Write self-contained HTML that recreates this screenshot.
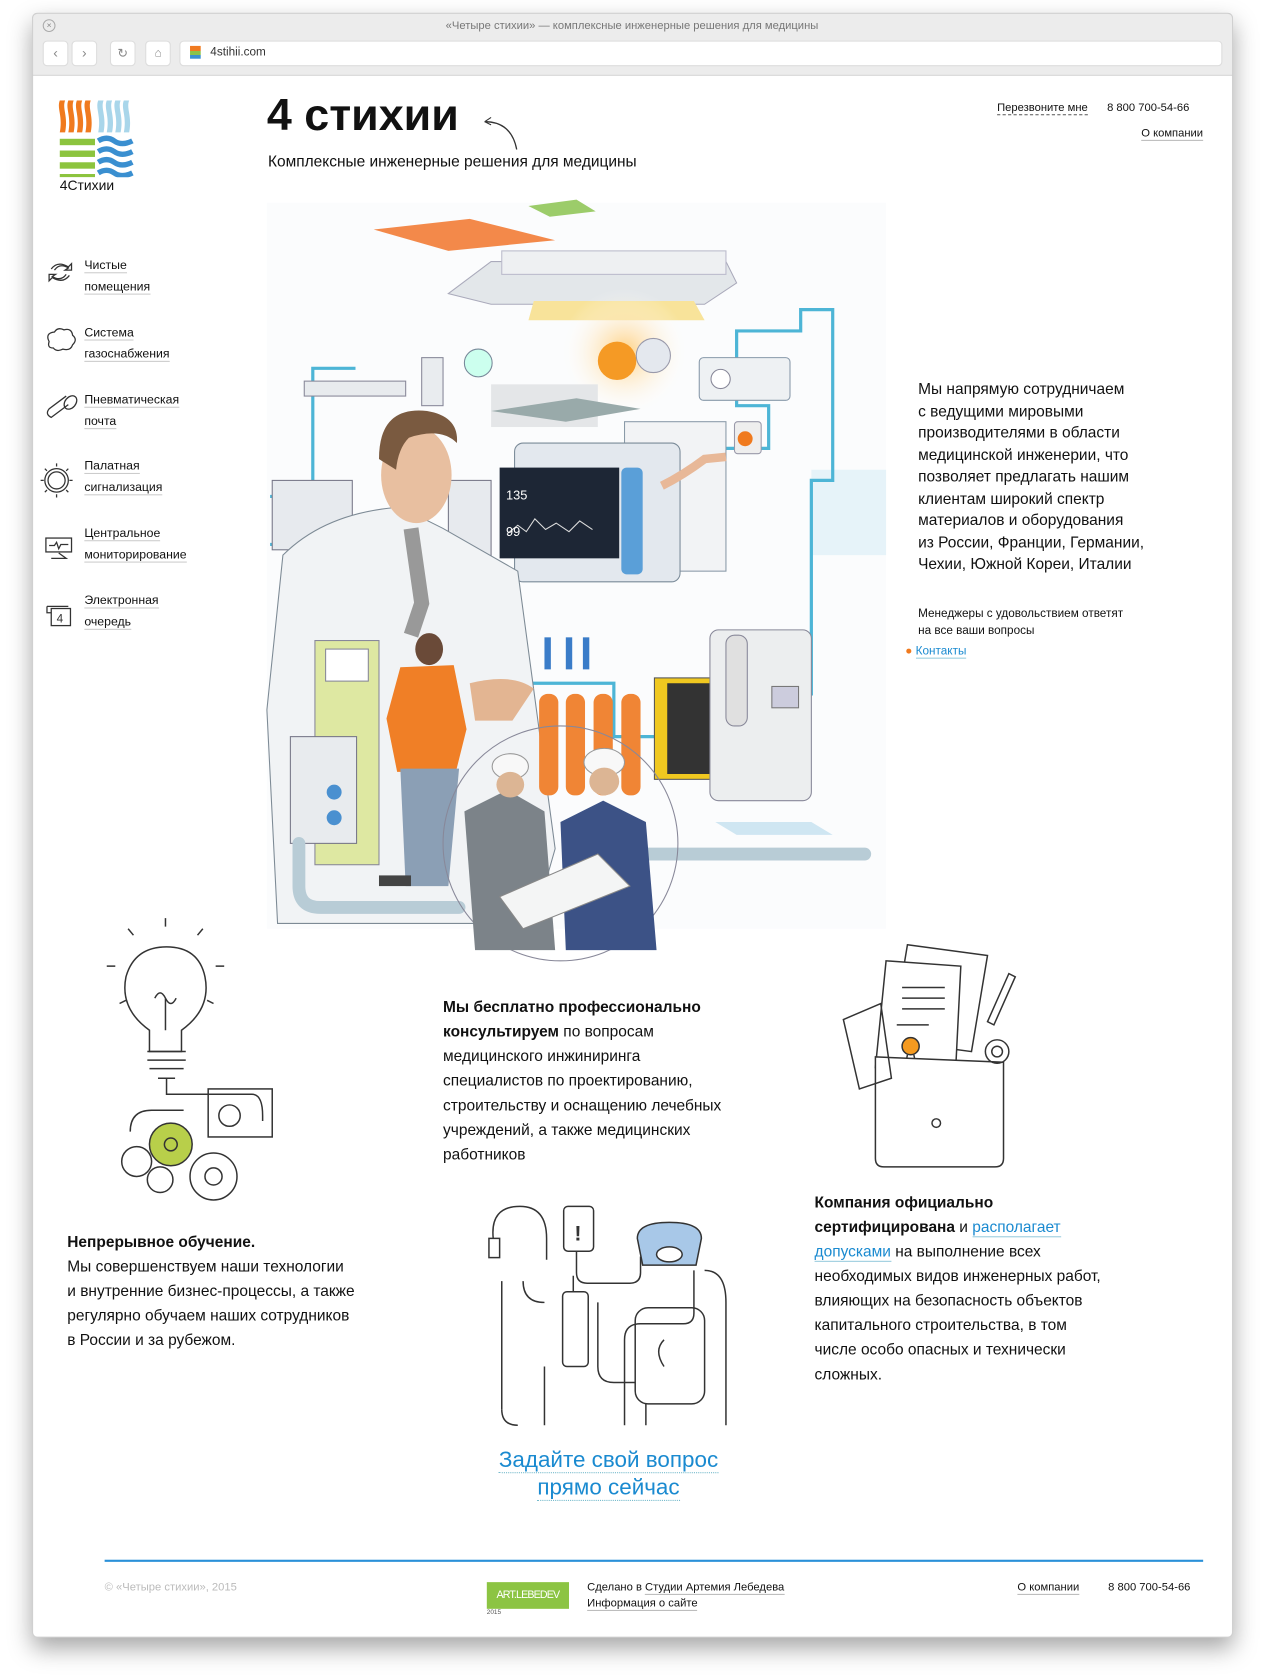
<!DOCTYPE html>
<html><head><meta charset="utf-8"><style>
html,body{margin:0;padding:0;background:#fff;width:1264px;height:1675px;overflow:hidden}
#s{position:absolute;left:0;top:0;width:1184px;height:1569px;transform:scale(1.06757);transform-origin:0 0;font-family:"Liberation Sans","DejaVu Sans",sans-serif;color:#111}
.a{position:absolute;white-space:nowrap}
.u{border-bottom:1px solid #bbb}
.nav{position:absolute;left:79px;font-size:11.5px;line-height:20px}
.nav span{border-bottom:1px solid #ccc}
.p{position:absolute;font-size:14.5px;line-height:23px;white-space:nowrap}
</style></head><body><div id="s">
<div class="a" style="left:30px;top:12px;width:1123px;height:1520px;background:#fff;border:1px solid #d0d0d0;border-radius:5px;box-shadow:0 10px 22px rgba(0,0,0,.35)"></div>
<div class="a" style="left:30px;top:12px;width:1123px;height:57px;background:#ececec;border:1px solid #d0d0d0;border-bottom:1px solid #c8c8c8;border-radius:5px 5px 0 0"></div>
<div class="a" style="left:40px;top:18px;width:10px;height:10px;border:1px solid #aaa;border-radius:50%;font-size:8px;line-height:10px;text-align:center;color:#888">×</div>
<div class="a" style="left:0;width:1184px;top:18px;text-align:center;font-size:10.5px;color:#777">«Четыре стихии» — комплексные инженерные решения для медицины</div>
<div class="a" style="left:40px;top:38px;width:22px;height:22px;background:#fff;border-radius:4px;border:1px solid #ddd;font-size:13px;text-align:center;line-height:22px;color:#888">‹</div>
<div class="a" style="left:67px;top:38px;width:22px;height:22px;background:#fff;border-radius:4px;border:1px solid #ddd;font-size:13px;text-align:center;line-height:22px;color:#888">›</div>
<div class="a" style="left:103px;top:38px;width:22px;height:22px;background:#fff;border-radius:4px;border:1px solid #ddd;font-size:12px;text-align:center;line-height:22px;color:#888">↻</div>
<div class="a" style="left:136px;top:38px;width:22px;height:22px;background:#fff;border-radius:4px;border:1px solid #ddd;font-size:11px;text-align:center;line-height:22px;color:#888">⌂</div>
<div class="a" style="left:168px;top:38px;width:975px;height:22px;background:#fff;border-radius:4px;border:1px solid #ddd"></div>
<div class="a" style="left:178px;top:43px;width:10px;height:12px;background:linear-gradient(#f07a20 0 40%,#8bc34a 40% 70%,#3a90d0 70%)"></div>
<div class="a" style="left:197px;top:43px;font-size:11px;color:#333">4stihii.com</div>

<svg class="a" style="left:54px;top:94px" width="74" height="72" viewBox="0 0 74 72">
<g fill="#f07a1e"><path d="M2 0h5c-3 8 3 14 0 30H2c3-16-3-22 0-30z"/><path d="M10 0h5c-3 8 3 14 0 30h-5c3-16-3-22 0-30z"/><path d="M18 0h5c-3 8 3 14 0 30h-5c3-16-3-22 0-30z"/><path d="M26 0h5c-3 8 3 14 0 30h-5c3-16-3-22 0-30z"/></g>
<g fill="#a9d6ea"><path d="M38 0h5c-3 8 3 14 0 30h-5c3-16-3-22 0-30z"/><path d="M46 0h5c-3 8 3 14 0 30h-5c3-16-3-22 0-30z"/><path d="M54 0h5c-3 8 3 14 0 30h-5c3-16-3-22 0-30z"/><path d="M62 0h5c-3 8 3 14 0 30h-5c3-16-3-22 0-30z"/></g>
<g fill="#8cc43e"><rect x="2" y="36" width="33" height="6"/><rect x="2" y="47" width="33" height="6"/><rect x="2" y="58" width="33" height="6"/><rect x="2" y="69" width="33" height="3"/></g>
<g fill="none" stroke="#3a8fd0" stroke-width="5"><path d="M38 38q8-5 15 0t17 0"/><path d="M38 48q8-5 15 0t17 0"/><path d="M38 58q8-5 15 0t17 0"/><path d="M38 68q8-5 15 0t17 0"/></g>
</svg>
<div class="a" style="left:56px;top:166px;font-size:13px">4Стихии</div>

<div class="a" style="left:250px;top:84px;font-size:42px;font-weight:bold;letter-spacing:0px">4 стихии</div>
<svg class="a" style="left:450px;top:108px" width="40" height="34"><path d="M4 6q25 0 30 26" fill="none" stroke="#333" stroke-width="1.2"/><path d="M4 6l6-4M4 6l6 3" stroke="#333" fill="none"/></svg>
<div class="a" style="left:251px;top:144px;font-size:14.5px">Комплексные инженерные решения для медицины</div>
<div class="a" style="left:934px;top:95px;font-size:10.5px"><span class="u" style="border-bottom:1px dashed #555">Перезвоните мне</span></div>
<div class="a" style="left:1037px;top:95px;font-size:10.5px">8 800 700-54-66</div>
<div class="a" style="left:1069px;top:119px;font-size:10.5px"><span class="u">О компании</span></div>

<svg class="a" style="left:38px;top:236px" width="40" height="370" fill="none" stroke="#333" stroke-width="1.2">
<path d="M10 16q6-8 16-2l3-3v6h-6l3-2q-8-5-13 2M27 22q-6 8-16 2l-3 3v-6h6l-3 2q8 5 13-2"/>
<path d="M8 84q-4-8 5-9 3-5 9-2 7-2 8 5 5 4 0 9-2 6-9 4-6 3-9-1-6 0-4-6z"/>
<g transform="translate(0,126)"><ellipse cx="28" cy="15" rx="5" ry="7" transform="rotate(40 28 15)"/><path d="M24 9L8 21q-4 5 2 8l16-12"/></g>
<g transform="translate(0,196)"><circle cx="15" cy="18" r="8"/><circle cx="15" cy="18" r="11"/><path d="M15 2v3M15 31v3M0 18h3M27 18h3M4 7l2 2M24 27l2 2M4 29l2-2M24 9l2-2"/></g>
<g transform="translate(0,262)"><rect x="5" y="6" width="24" height="13"/><path d="M8 13h5l2-3 2 6 2-4h7M10 25h14l-7-5"/></g>
<g transform="translate(0,326)"><rect x="10" y="8" width="18" height="16"/><path d="M6 6v6h4M6 6h20" /><text x="15" y="21" font-size="11" fill="#333" stroke="none" font-family="Liberation Sans">4</text></g>
</svg>
<div class="nav" style="top:239px"><span>Чистые</span><br><span>помещения</span></div>
<div class="nav" style="top:302px"><span>Система</span><br><span>газоснабжения</span></div>
<div class="nav" style="top:365px"><span>Пневматическая</span><br><span>почта</span></div>
<div class="nav" style="top:427px"><span>Палатная</span><br><span>сигнализация</span></div>
<div class="nav" style="top:490px"><span>Центральное</span><br><span>мониторирование</span></div>
<div class="nav" style="top:553px"><span>Электронная</span><br><span>очередь</span></div>

<svg class="a" style="left:0;top:0" width="1184" height="1569">
<defs><radialGradient id="sun"><stop offset="0" stop-color="#ffd080"/><stop offset="1" stop-color="#fff" stop-opacity="0"/></radialGradient></defs>
<rect x="250" y="190" width="580" height="680" fill="#fbfcfd"/>
<rect x="760" y="440" width="70" height="80" fill="#e6f3f9"/>
<polygon points="350,215 440,205 520,225 420,235" fill="#f3894a"/>
<polygon points="495,193 540,187 558,198 515,203" fill="#9ccc6a"/>
<path d="M420 275l40-30h220l10 20-30 20H460z" fill="#e3e7ea" stroke="#aab" />
<rect x="470" y="235" width="210" height="22" fill="#eef0f2" stroke="#bbc"/>
<polygon points="500,282 650,282 660,300 495,300" fill="#f8e39a"/>
<circle cx="585" cy="330" r="60" fill="url(#sun)"/>
<circle cx="578" cy="338" r="18" fill="#f59a25"/>
<circle cx="612" cy="333" r="16" fill="#e4e8ee" stroke="#99a"/>
<path d="M253 465h40v-120h40M253 510h25v80h180M660 420h60v-40h-30v-70h60v-20h30v160h-20v200h-30v50h-60M455 590v50h120v50h40" fill="none" stroke="#4db5d6" stroke-width="3"/>
<rect x="655" y="335" width="85" height="40" rx="4" fill="#eef1f3" stroke="#8899aa"/>
<circle cx="675" cy="355" r="9" fill="#fff" stroke="#889"/>
<rect x="688" y="395" width="25" height="30" rx="3" fill="#eee" stroke="#99a"/>
<circle cx="698" cy="411" r="7" fill="#f07a1e"/>
<rect x="285" y="357" width="95" height="14" fill="#e8ebee" stroke="#889"/>
<rect x="395" y="335" width="20" height="45" fill="#e9ecef" stroke="#889"/>
<circle cx="448" cy="340" r="13" fill="#cfe" stroke="#789"/>
<rect x="255" y="450" width="75" height="65" fill="#e7eaee" stroke="#778"/>
<rect x="420" y="450" width="40" height="80" fill="#e7eaee" stroke="#778"/>
<rect x="460" y="360" width="100" height="40" fill="#e4e6e8"/>
<path d="M460 385l80-12 60 10-70 12z" fill="#9aa" />
<rect x="585" y="395" width="95" height="140" fill="#f2f3f5" stroke="#8a9aa8"/>
<rect x="482" y="415" width="155" height="130" rx="8" fill="#e3e8ee" stroke="#7a8a98"/>
<rect x="468" y="438" width="112" height="85" fill="#1d2635"/>
<path d="M475 500l10-8 8 6 8-12 10 10 10-6 12 8 10-10 12 8" stroke="#ddd" fill="none"/>
<text x="474" y="468" fill="#fff" font-size="12" font-family="Liberation Sans">135</text>
<text x="474" y="502" fill="#fff" font-size="12" font-family="Liberation Sans">99</text>
<rect x="582" y="438" width="20" height="100" rx="5" fill="#5a9fd8"/>
<path d="M620 455q20-10 40-25l20-2" stroke="#e8b898" stroke-width="8" fill="none"/>
<path d="M265 520q40-40 110-45l40 20 70 40 35 260-20 70H260l-10-200z" fill="#f1f3f5" stroke="#7d8a95"/>
<path d="M385 495l10 70-10 30" stroke="#999" stroke-width="14" fill="none"/>
<ellipse cx="390" cy="445" rx="33" ry="45" fill="#e8bfa0"/>
<path d="M355 430q0-50 45-45 30 5 28 30-15-15-45-5-10 10-12 30z" fill="#7a5a40"/>
<path d="M440 640q40-10 60 5l-20 30-35 0z" fill="#e3b592"/>
<ellipse cx="402" cy="608" rx="13" ry="15" fill="#6a4a38"/>
<path d="M375 625l50-2 12 60-10 40h-55l-10-50z" fill="#f07f26"/>
<path d="M375 720h55l-10 110h-40z" fill="#8b9fb5"/>
<rect x="355" y="820" width="30" height="10" fill="#444"/>
<rect x="295" y="600" width="60" height="210" fill="#dee8a2" stroke="#889"/>
<rect x="305" y="608" width="40" height="30" fill="#fff" stroke="#889"/>
<rect x="272" y="690" width="62" height="100" fill="#e8ebee" stroke="#778"/>
<circle cx="313" cy="742" r="7" fill="#4a90d0"/><circle cx="313" cy="766" r="7" fill="#4a90d0"/>
<g fill="#f08535"><rect x="505" y="650" width="18" height="95" rx="8"/><rect x="530" y="650" width="18" height="95" rx="8"/><rect x="556" y="650" width="18" height="95" rx="8"/><rect x="582" y="650" width="18" height="95" rx="8"/></g>
<g fill="#3a7cc8"><rect x="510" y="597" width="6" height="30"/><rect x="530" y="597" width="6" height="30"/><rect x="546" y="597" width="6" height="30"/></g>
<rect x="613" y="635" width="55" height="95" fill="#f0c820" stroke="#555"/>
<rect x="625" y="640" width="40" height="85" fill="#333"/>
<rect x="665" y="590" width="95" height="160" rx="8" fill="#eceeef" stroke="#889"/>
<rect x="680" y="595" width="20" height="85" rx="8" fill="#e0e0e0" stroke="#889"/>
<rect x="723" y="643" width="25" height="20" fill="#ccd" stroke="#777"/>
<path d="M280 790v40q0 20 20 20h130M600 800h210" stroke="#b8ccd6" stroke-width="12" fill="none" stroke-linecap="round"/>
<polygon points="670,770 760,770 780,782 690,782" fill="#cfe6f2"/>
<circle cx="525" cy="790" r="110" fill="none" stroke="#889" stroke-width="1"/>
<path d="M435 760l40-20 35 20 10 130h-75z" fill="#7c8389"/>
<ellipse cx="478" cy="718" rx="17" ry="12" fill="#f8f8f8" stroke="#999"/>
<ellipse cx="478" cy="735" rx="13" ry="12" fill="#dcb594"/>
<path d="M525 770l40-20 40 20 10 120h-85z" fill="#3c5286"/>
<ellipse cx="566" cy="714" rx="19" ry="13" fill="#f8f8f8" stroke="#999"/>
<ellipse cx="566" cy="732" rx="14" ry="13" fill="#dcb594"/>
<polygon points="468,840 560,800 590,830 490,870" fill="#f4f5f5" stroke="#888"/>
</svg>

<div class="p" style="left:860px;top:355px;line-height:20.5px;font-size:14.5px">Мы напрямую сотрудничаем<br>с ведущими мировыми<br>производителями в области<br>медицинской инженерии, что<br>позволяет предлагать нашим<br>клиентам широкий спектр<br>материалов и оборудования<br>из России, Франции, Германии,<br>Чехии, Южной Кореи, Италии</div>
<div class="p" style="left:860px;top:567px;font-size:11px;line-height:16px">Менеджеры с удовольствием ответят<br>на все ваши вопросы</div>
<div class="a" style="left:848px;top:604px;font-size:11px;color:#1a8ad0"><span style="color:#f07a1e">●</span> <span style="border-bottom:1px solid #9cd">Контакты</span></div>

<svg class="a" style="left:0;top:0" width="1184" height="1569" fill="none" stroke="#333" stroke-width="1.4">
<path d="M140 965q-28-20-22-50 8-28 38-28 30 0 36 28 6 30-22 50v20h-30z"/>
<path d="M138 985h36M138 993h36M140 1001h32M148 1010h16"/>
<path d="M145 935q5-10 10 0t10 0M155 935v30"/>
<path d="M155 860v8M120 870l5 6M190 870l-5 6M100 905h8M210 905h-8M112 940l6-3M200 940l-6-3"/>
<path d="M156 1010v15h80q10 0 10 20v5"/>
<rect x="195" y="1020" width="60" height="45"/><circle cx="215" cy="1045" r="10"/>
<circle cx="160" cy="1072" r="20" fill="#b8cf4a"/><circle cx="160" cy="1072" r="6"/>
<circle cx="128" cy="1088" r="14"/><circle cx="150" cy="1105" r="12"/><circle cx="200" cy="1102" r="22"/><circle cx="200" cy="1102" r="8"/>
<path d="M122 1060q0-20 20-20h30"/>
<polygon points="850,885 925,895 910,985 835,975" fill="#fff"/>
<polygon points="830,900 900,905 895,1005 820,1000" fill="#fff"/>
<path d="M845 925h40M845 935h40M845 945h40M840 960h30"/>
<circle cx="853" cy="980" r="8" fill="#f49a20"/>
<path d="M850 988l-3 15M856 988l3 15"/>
<path d="M820 990l120 5v90q0 8-8 8H828q-8 0-8-8z" fill="#fff"/>
<path d="M790 955l35-15 10 70-30 10z"/>
<circle cx="877" cy="1052" r="4"/>
<circle cx="934" cy="985" r="11"/><circle cx="934" cy="985" r="5"/>
<path d="M945 912l-20 45 6 3 20-45z"/>
<path d="M462 1160q-3-30 25-30 25 0 25 30v20" /><rect x="458" y="1160" width="10" height="18"/>
<path d="M470 1200v120"/><path d="M490 1200q0 20 20 20"/>
<rect x="528" y="1130" width="28" height="42" rx="4"/><text x="538" y="1162" font-size="20" fill="#333" stroke="none" font-family="Liberation Sans" font-weight="bold">!</text>
<path d="M540 1172v20q0 10 10 10h40q10 0 10-10v-15"/>
<path d="M597 1160q0-15 30-15t30 15l-5 25h-50z" fill="#a8c8e8"/><ellipse cx="627" cy="1175" rx="12" ry="7" fill="#fff"/>
<rect x="527" y="1210" width="24" height="70" rx="4"/><path d="M537 1195v15"/>
<path d="M510 1280v55M560 1220v60q0 15 15 15h20M650 1190v40q0 10-10 10h-40q-15 0-15 15v80"/>
<rect x="595" y="1225" width="65" height="90" rx="12"/><path d="M622 1255q-10 10 0 25"/>
<path d="M660 1190q20 0 20 30v115M470 1320q0 15 15 15M605 1315v20"/>
</svg>

<div class="p" style="left:415px;top:933px"><b>Мы бесплатно профессионально</b><br><b>консультируем</b> по вопросам<br>медицинского инжиниринга<br>специалистов по проектированию,<br>строительству и оснащению лечебных<br>учреждений, а также медицинских<br>работников</div>
<div class="p" style="left:63px;top:1153px"><b>Непрерывное обучение.</b><br>Мы совершенствуем наши технологии<br>и внутренние бизнес-процессы, а также<br>регулярно обучаем наших сотрудников<br>в России и за рубежом.</div>
<div class="p" style="left:763px;top:1116px"><b>Компания официально</b><br><b>сертифицирована</b> и <span style="color:#1a8ad0;border-bottom:1px solid #9cd">располагает</span><br><span style="color:#1a8ad0;border-bottom:1px solid #9cd">допусками</span> на выполнение всех<br>необходимых видов инженерных работ,<br>влияющих на безопасность объектов<br>капитального строительства, в том<br>числе особо опасных и технически<br>сложных.</div>
<div class="a" style="left:420px;width:300px;top:1355px;text-align:center;font-size:21px;line-height:26px;color:#1a8ad0"><span style="border-bottom:1px dotted #7bc">Задайте свой вопрос</span><br><span style="border-bottom:1px dotted #7bc">прямо сейчас</span></div>

<div class="a" style="left:98px;top:1461px;width:1029px;height:2px;background:#2a90d8"></div>
<div class="a" style="left:98px;top:1481px;font-size:10.5px;color:#bbb">© «Четыре стихии», 2015</div>
<div class="a" style="left:456px;top:1482px;width:77px;height:25px;background:#8cc443;color:#fff;font-size:10px;line-height:25px;text-align:center;letter-spacing:-0.8px;overflow:hidden">ART.LEBEDEV</div>
<div class="a" style="left:456px;top:1508px;font-size:6px;color:#555">2015</div>
<div class="a" style="left:550px;top:1480px;font-size:10.5px;line-height:15px">Сделано в <span class="u">Студии Артемия Лебедева</span><br><span class="u">Информация о сайте</span></div>
<div class="a" style="left:953px;top:1481px;font-size:10.5px"><span class="u">О компании</span></div>
<div class="a" style="left:1038px;top:1481px;font-size:10.5px">8 800 700-54-66</div>
</div></body></html>
